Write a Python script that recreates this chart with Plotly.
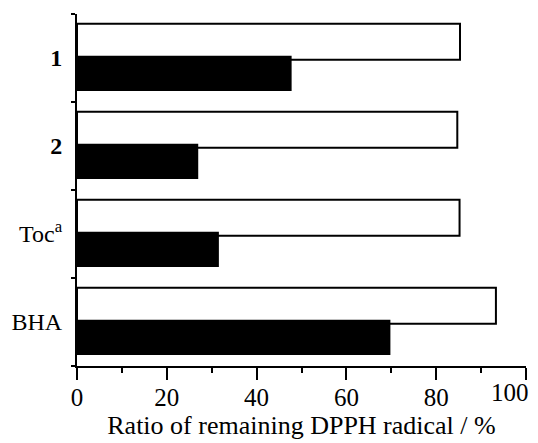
import plotly.graph_objects as go

categories = ["1", "2", "Toc", "BHA"]
category_labels = ["<b>1</b>", "<b>2</b>", "Toc<sup>a</sup>", "BHA"]
white_values = [85.3, 84.7, 85.2, 93.3]
black_values = [47.8, 27.0, 31.6, 69.8]
x_tick_values = [0, 20, 40, 60, 80, 100]
x_tick_labels = ["0", "20", "40", "60", "80", "100"]

FONT = "Liberation Serif, Times New Roman, serif"

fig = go.Figure()
fig.add_trace(go.Bar(
    y=categories, x=white_values, orientation="h",
    marker=dict(color="white", line=dict(color="black", width=2)),
    width=0.41, offset=-0.39, showlegend=False,
))
fig.add_trace(go.Bar(
    y=categories, x=black_values, orientation="h",
    marker=dict(color="black", line=dict(color="black", width=0)),
    width=0.40, offset=-0.025, showlegend=False,
))

# last tick label is right-aligned to its tick (as in the original figure)
shown_labels = x_tick_labels[:-1] + [""]
fig.add_annotation(
    x=x_tick_values[-1], xref="x", y=0, yref="paper",
    text=x_tick_labels[-1], showarrow=False,
    xanchor="right", yanchor="top", xshift=5, yshift=-11,
    font=dict(family=FONT, size=25, color="black"),
)

fig.update_layout(
    width=530, height=435,
    margin=dict(l=69, r=12, t=6, b=77),
    paper_bgcolor="white", plot_bgcolor="white",
    barmode="overlay",
    font=dict(family=FONT, size=24, color="black"),
    xaxis=dict(
        range=[0, 100], tickvals=x_tick_values, ticktext=shown_labels,
        automargin=False, ticklabelstandoff=-4,
        ticks="outside", ticklen=12, tickwidth=2, tickcolor="black",
        showline=True, linewidth=2, linecolor="black",
        showgrid=False, zeroline=False,
        minor=dict(dtick=10, ticks="outside", ticklen=5, tickwidth=2, tickcolor="black", showgrid=False),
        tickfont=dict(family=FONT, size=25),
        title=dict(text="Ratio of remaining DPPH radical / %", font=dict(family=FONT, size=26), standoff=2),
    ),
    yaxis=dict(
        type="category", categoryorder="array", categoryarray=categories,
        autorange="reversed", automargin=False,
        tickvals=categories, ticktext=category_labels,
        tickson="boundaries",
        ticks="outside", ticklen=4, tickwidth=2, tickcolor="black",
        showline=True, linewidth=2, linecolor="black",
        showgrid=False, zeroline=False,
        tickfont=dict(family=FONT, size=24),
        ticklabelstandoff=8,
    ),
)

fig.write_html("out.html")
